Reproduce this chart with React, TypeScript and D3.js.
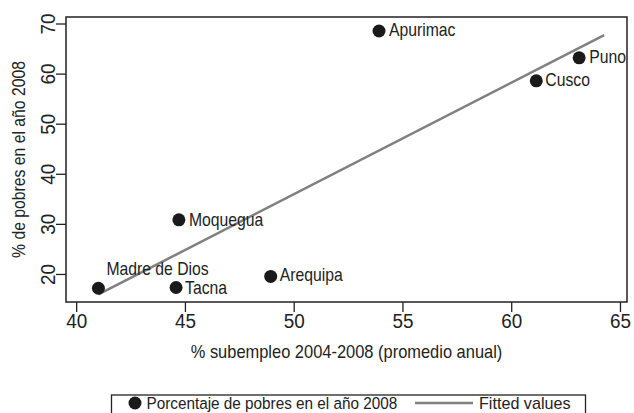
import React from 'react';
import * as d3 from 'd3';

const regions = ['Madre de Dios', 'Tacna', 'Moquegua', 'Arequipa', 'Apurimac', 'Cusco', 'Puno'];
const subempleo = [41.0, 44.57, 44.7, 48.92, 53.9, 61.13, 63.1];
const pobres = [17.25, 17.4, 30.9, 19.6, 68.6, 58.66, 63.25];
const fitX = [41.0, 64.25];
const fitY = [16.0, 67.8];
const xTicks = [40, 45, 50, 55, 60, 65];
const yTicks = [20, 30, 40, 50, 60, 70];

// label placement per region (dx, dy from the marker)
const labelOffset: Record<string, [number, number]> = {
  'Madre de Dios': [8, -13],
  Tacna: [9, 7],
  Moquegua: [10, 6],
  Arequipa: [9, 5],
  Apurimac: [10, 5],
  Cusco: [9, 5],
  Puno: [10, 5],
};

const FONT = '"Liberation Sans", Arial, sans-serif';

// condensed text: squeeze horizontally around the anchor point
const CText: React.FC<{
  x: number; y: number; size: number; rotate?: number; squeeze?: number;
  anchor?: 'start' | 'middle' | 'end'; children: React.ReactNode;
}> = ({ x, y, size, rotate = 0, squeeze = 0.9, anchor = 'start', children }) => (
  <text
    transform={`translate(${x},${y}) rotate(${rotate}) scale(${squeeze},1)`}
    textAnchor={anchor}
    fontSize={size}
    fill="#222"
  >
    {children}
  </text>
);

const App: React.FC = () => {
  const width = 634;
  const height = 413;
  const plot = { left: 66, right: 627, top: 17, bottom: 302 };

  const x = d3.scaleLinear().domain([39.51, 65.3]).range([plot.left, plot.right]);
  const y = d3.scaleLinear().domain([14.5, 71.4]).range([plot.bottom, plot.top]);

  const fitLine = d3.line<number>()
    .x((_, i) => x(fitX[i]))
    .y(d => y(d));

  return (
    <svg width={width} height={height} style={{ position: 'absolute', left: 0, top: 0, background: '#fff' }}
      fontFamily={FONT}>
      <rect width={width} height={height} fill="#fff" />

      {/* frame */}
      <rect x={plot.left} y={plot.top} width={plot.right - plot.left} height={plot.bottom - plot.top}
        fill="none" stroke="#222" strokeWidth={1.5} />

      {/* x axis */}
      {xTicks.map(t => (
        <g key={t}>
          <line x1={x(t)} x2={x(t)} y1={plot.bottom} y2={plot.bottom + 10} stroke="#222" strokeWidth={1.3} />
          <CText x={x(t)} y={plot.bottom + 26} size={21} anchor="middle">{t}</CText>
        </g>
      ))}
      <CText x={(plot.left + plot.right) / 2} y={358} size={17.5} squeeze={0.94} anchor="middle">
        % subempleo 2004-2008 (promedio anual)
      </CText>

      {/* y axis */}
      {yTicks.map(t => (
        <g key={t}>
          <line x1={plot.left} x2={plot.left - 10} y1={y(t)} y2={y(t)} stroke="#222" strokeWidth={1.3} />
          <CText x={plot.left - 11} y={y(t)} size={21} rotate={-90} anchor="middle">{t}</CText>
        </g>
      ))}
      <CText x={25} y={(plot.top + plot.bottom) / 2} size={17.5} rotate={-90} anchor="middle">
        % de pobres en el año 2008
      </CText>

      {/* fitted values */}
      <path d={fitLine(fitY) || undefined} fill="none" stroke="#808080" strokeWidth={2.5} />

      {/* points */}
      {regions.map((r, i) => (
        <g key={r}>
          <circle cx={x(subempleo[i])} cy={y(pobres[i])} r={6.5} fill="#1a1a1a" />
          <CText x={x(subempleo[i]) + labelOffset[r][0]} y={y(pobres[i]) + labelOffset[r][1]} size={17.5}>
            {r}
          </CText>
        </g>
      ))}

      {/* legend */}
      <rect x={111.5} y={395} width={474} height={30} fill="#fff" stroke="#222" strokeWidth={1.3} />
      <circle cx={135} cy={403} r={6.5} fill="#1a1a1a" />
      <CText x={146.5} y={409} size={17} squeeze={0.9}>Porcentaje de pobres en el año 2008</CText>
      <line x1={415} x2={473} y1={403} y2={403} stroke="#808080" strokeWidth={2.5} />
      <CText x={479} y={409} size={17} squeeze={0.95}>Fitted values</CText>
    </svg>
  );
};

export default App;
